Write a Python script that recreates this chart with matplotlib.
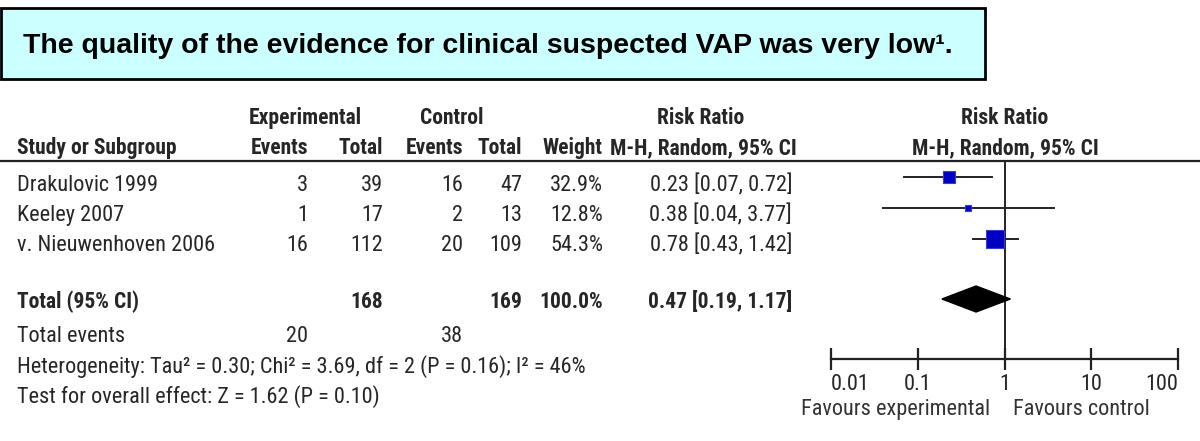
import numpy as np
import matplotlib
matplotlib.use("Agg")
import matplotlib.pyplot as plt
from matplotlib.patches import Rectangle

# data
studies = ["Drakulovic 1999", "Keeley 2007", "v. Nieuwenhoven 2006"]
exp_events = [3, 1, 16]
exp_total = [39, 17, 112]
ctl_events = [16, 2, 20]
ctl_total = [47, 13, 109]
weight = [32.9, 12.8, 54.3]
rr = [0.23, 0.38, 0.78]
rr_lo = [0.07, 0.04, 0.43]
rr_hi = [0.72, 3.77, 1.42]

tot_exp_total = 168
tot_ctl_total = 169
tot_weight = 100.0
tot_rr, tot_lo, tot_hi = 0.47, 0.19, 1.17
tot_exp_events = 20
tot_ctl_events = 38

title = "The quality of the evidence for clinical suspected VAP was very low\u00b9."
heterogeneity = "Heterogeneity: Tau\u00b2 = 0.30; Chi\u00b2 = 3.69, df = 2 (P = 0.16); I\u00b2 = 46%"
overall = "Test for overall effect: Z = 1.62 (P = 0.10)"
tick_vals = [0.01, 0.1, 1, 10, 100]
tick_labels = ["0.01", "0.1", "1", "10", "100"]

# layout (pixels, figure is 1200 x 441)
W, H = 1200, 441
narrow = ["Roboto Condensed", "Liberation Sans", "DejaVu Sans"]
wide = ["Liberation Sans", "DejaVu Sans"]
fs = 16
fs_b = 15.5
tc = "#262626"

col_x = {"ee": 308, "et": 383, "ce": 463, "ct": 522, "w": 603, "rr": 792}
row_base = [191, 221, 251]          # text baselines of the study rows
tot_base, ev_base, het_base, ov_base = 308, 342, 373, 403
mark_y = [177, 208, 239]
tot_mark_y = 299
line_y = 161
axis_y = 359
fx_left, fx_right = 831, 1178

fig = plt.figure(figsize=(12, 4.41), dpi=100)
ax = fig.add_axes([0, 0, 1, 1])
ax.set_xlim(0, W)
ax.set_ylim(H, 0)
ax.axis("off")

# title box
ax.add_patch(Rectangle((1, 8), 984, 71, facecolor="#ccffff", edgecolor="black", lw=2))
ax.text(23, 53, title, family=wide, weight="bold", fontsize=20.5, va="baseline", color="black")

def t(x, y, s, ha="right", bold=False):
    ax.text(x, y, s, ha=ha, va="baseline", family=narrow, fontsize=fs_b if bold else fs,
            weight="bold" if bold else "normal", color=tc)

# headers
t(305, 124, "Experimental", ha="center", bold=True)
t(452, 124, "Control", ha="center", bold=True)
t(701, 124, "Risk Ratio", ha="center", bold=True)
t(1005, 124, "Risk Ratio", ha="center", bold=True)
t(17, 154, "Study or Subgroup", ha="left", bold=True)
t(col_x["ee"], 154, "Events", bold=True)
t(col_x["et"], 154, "Total", bold=True)
t(col_x["ce"], 154, "Events", bold=True)
t(col_x["ct"], 154, "Total", bold=True)
t(col_x["w"], 154, "Weight", bold=True)
t(703, 154, "M-H, Random, 95% CI", ha="center", bold=True)
t(1005, 154, "M-H, Random, 95% CI", ha="center", bold=True)
ax.plot([0, W], [line_y, line_y], color="#222222", lw=1.6)

# study rows
for i, name in enumerate(studies):
    y = row_base[i]
    t(17, y, name, ha="left")
    t(col_x["ee"], y, str(exp_events[i]))
    t(col_x["et"], y, str(exp_total[i]))
    t(col_x["ce"], y, str(ctl_events[i]))
    t(col_x["ct"], y, str(ctl_total[i]))
    t(col_x["w"], y, f"{weight[i]:.1f}%")
    t(col_x["rr"], y, f"{rr[i]:.2f} [{rr_lo[i]:.2f}, {rr_hi[i]:.2f}]")

# totals
t(17, tot_base, "Total (95% CI)", ha="left", bold=True)
t(col_x["et"], tot_base, str(tot_exp_total), bold=True)
t(col_x["ct"], tot_base, str(tot_ctl_total), bold=True)
t(col_x["w"], tot_base, f"{tot_weight:.1f}%", bold=True)
t(col_x["rr"], tot_base, f"{tot_rr:.2f} [{tot_lo:.2f}, {tot_hi:.2f}]", bold=True)
t(17, ev_base, "Total events", ha="left")
t(col_x["ee"], ev_base, str(tot_exp_events))
t(col_x["ce"], ev_base, str(tot_ctl_events))
t(17, het_base, heterogeneity, ha="left")
t(17, ov_base, overall, ha="left")

# forest panel
fx = fig.add_axes([fx_left / W, 1 - axis_y / H, (fx_right - fx_left) / W, (axis_y - line_y) / H])
fx.set_xscale("log")
fx.set_xlim(tick_vals[0], tick_vals[-1])
fx.set_ylim(axis_y, line_y)
fx.patch.set_visible(False)
for s in ["top", "left", "right"]:
    fx.spines[s].set_visible(False)
fx.spines["bottom"].set_linewidth(1.6)
fx.spines["bottom"].set_color("#222222")
fx.set_yticks([])
fx.set_xticks(tick_vals)
fx.set_xticklabels(tick_labels, family=narrow, fontsize=fs, color=tc)
fx.minorticks_off()
fx.tick_params(axis="x", direction="inout", length=16, width=1.6, color="#222222", pad=3)
lbls = fx.get_xticklabels()
lbls[0].set_ha("left")
lbls[-1].set_ha("right")
fx.axvline(1, color="#222222", lw=1.4)

for i in range(len(studies)):
    fx.plot([rr_lo[i], rr_hi[i]], [mark_y[i], mark_y[i]], color="#222222", lw=1.4, zorder=3)
    side = (2.4 + 0.3 * weight[i]) * 0.72
    fx.scatter([rr[i]], [mark_y[i]], marker="s", s=side ** 2, facecolor="#0000c0",
               edgecolor="#3a3ad8", lw=0.8, zorder=4)
fx.fill([tot_lo, tot_rr, tot_hi, tot_rr],
        [tot_mark_y, tot_mark_y - 13, tot_mark_y, tot_mark_y + 13],
        color="black", zorder=4, clip_on=False)

ax.text(990, 415, "Favours experimental", ha="right", va="baseline", family=narrow,
        fontsize=fs, color="#333333")
ax.text(1013, 415, "Favours control", ha="left", va="baseline", family=narrow,
        fontsize=fs, color="#333333")

fig.savefig("out.png", dpi=100)
